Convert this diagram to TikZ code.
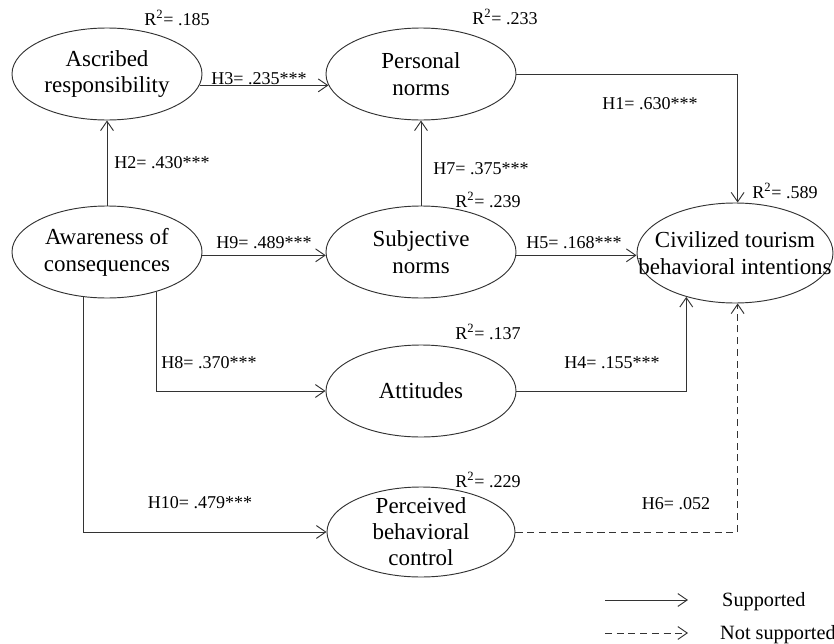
\documentclass[tikz,border=0pt]{standalone}
\usepackage{fontspec}
\setmainfont{Liberation Serif}
\usetikzlibrary{shapes.geometric,arrows.meta}
\begin{document}
\begin{tikzpicture}[x=0.03cm,y=-0.03cm,
  ell/.style={draw=black!80, line width=0.8pt, ellipse, inner sep=-40pt, align=center,
    font=\fontsize{19.6}{23}\selectfont, minimum width=5.7cm, minimum height=2.76cm},
  conn/.style={draw=black!80, line width=0.8pt, -{Straight Barb[length=8pt,width=11pt]}},
  notsup/.style={dash pattern=on 6pt off 4pt},
  lbl/.style={font=\fontsize{15.4}{18}\selectfont, inner sep=0pt, anchor=base},
  leg/.style={font=\fontsize{17.3}{20}\selectfont, inner sep=0pt, anchor=base west}]
\useasboundingbox (0,0) rectangle (834,644);

% constructs
\node[ell] (asc) at (107,74) {Ascribed\\responsibility};
\node[ell] (per) at (421,74) {Personal\\norms};
\node[ell] (aw) at (107,252) {Awareness of\\consequences};
\node[ell] (sub) at (421,252) {Subjective\\norms};
\node[ell, minimum width=5.88cm, minimum height=3.0cm] (civ) at (735,253) {Civilized tourism\\behavioral intentions};
\node[ell] (att) at (421,391) {Attitudes};
\node[ell, minimum width=5.64cm, minimum height=2.7cm, font=\fontsize{19.6}{22.3}\selectfont] (pbc) at (421,532) {Perceived\\behavioral\\control};

% paths
\draw[conn] (aw.north) -- (asc.south);
\draw[conn] (asc.-7) -- (per.187);
\draw[conn] (per.east) -| (civ.87);
\draw[conn] (sub.north) -- (per.south);
\draw[conn] (aw.-2.5) -- (sub.182.5);
\draw[conn] (sub.-2.5) -- (sub.-2.5 -| civ.west);
\draw[conn] (aw.-39) |- (att.west);
\draw[conn] (aw.242) |- (pbc.west);
\draw[conn] (att.east) -| (civ.222);
\draw[conn, notsup] (pbc.east) -| (civ.273);

% labels
\node[lbl] (r185) at (177,25) {R\textsuperscript{2}= .185};
\node[lbl] (r233) at (505,24) {R\textsuperscript{2}= .233};
\node[lbl] (r239) at (488,207) {R\textsuperscript{2}= .239};
\node[lbl] (r589) at (785,198) {R\textsuperscript{2}= .589};
\node[lbl] (r137) at (488,339) {R\textsuperscript{2}= .137};
\node[lbl] (r229) at (488,487) {R\textsuperscript{2}= .229};
\node[lbl] (h3) at (259,84) {H3= .235***};
\node[lbl] (h2) at (162,168) {H2= .430***};
\node[lbl] (h1) at (650,109) {H1= .630***};
\node[lbl] (h7) at (481,174) {H7= .375***};
\node[lbl] (h5) at (574,248) {H5= .168***};
\node[lbl] (h9) at (264,248) {H9= .489***};
\node[lbl] (h8) at (209,368) {H8= .370***};
\node[lbl] (h4) at (612,368) {H4= .155***};
\node[lbl] (h10) at (200,508) {H10= .479***};
\node[lbl] (h6) at (676,509) {H6= .052};

% legend
\coordinate (s1) at (605,600);
\coordinate (s2) at (688,600);
\coordinate (d1) at (605,633);
\coordinate (d2) at (688,633);
\draw[conn] (s1) -- (s2);
\draw[conn, notsup] (d1) -- (d2);
\node[leg] (lsup) at (722,606) {Supported};
\node[leg] (lnot) at (720,639) {Not supported};
\end{tikzpicture}
\end{document}
